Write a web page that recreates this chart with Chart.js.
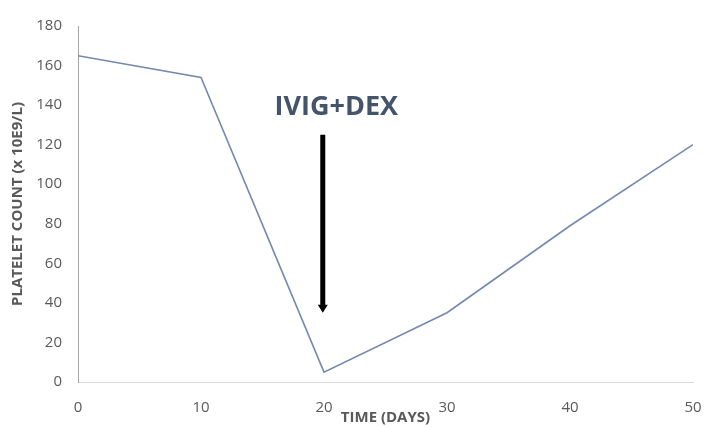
<!DOCTYPE html>
<html>
<head>
<meta charset="utf-8">
<script src="https://cdn.jsdelivr.net/npm/chart.js@4/dist/chart.umd.min.js"></script>
<style>
  html, body { margin: 0; padding: 0; background: #fff; }
  #wrap { width: 710px; height: 427px; }
</style>
</head>
<body>
<div id="wrap"><canvas id="plateletChart"></canvas></div>
<script>
  // data
  const days = [0, 10, 20, 30, 40, 50];
  const platelets = [165, 154, 5, 35, 79, 120];
  const yTicks = [0, 20, 40, 60, 80, 100, 120, 140, 160, 180];
  const xTicks = [0, 10, 20, 30, 40, 50];

  // treatment annotation (data units)
  const treatmentLabel = 'IVIG+DEX';
  const labelAt = [21, 139];
  const arrowDay = 19.9;
  const arrowSpan = [125, 35];

  const tickFont = { family: 'Open Sans', size: 15 };
  const titleFont = { family: 'Open Sans', size: 15, weight: 'bold' };

  const treatmentPlugin = {
    id: 'treatment',
    afterDatasetsDraw(chart) {
      const { ctx, scales: { x, y } } = chart;
      ctx.save();
      ctx.fillStyle = '#44546a';
      ctx.font = 'bold 27px "Open Sans"';
      ctx.textAlign = 'center';
      ctx.textBaseline = 'middle';
      ctx.fillText(treatmentLabel, x.getPixelForValue(labelAt[0]), y.getPixelForValue(labelAt[1]));

      const ax = x.getPixelForValue(arrowDay);
      const top = y.getPixelForValue(arrowSpan[0]);
      const tip = y.getPixelForValue(arrowSpan[1]);
      ctx.strokeStyle = '#000';
      ctx.fillStyle = '#000';
      ctx.lineWidth = 5;
      ctx.beginPath();
      ctx.moveTo(ax, top);
      ctx.lineTo(ax, tip - 6);
      ctx.stroke();
      ctx.beginPath();
      ctx.moveTo(ax - 5, tip - 8);
      ctx.lineTo(ax + 5, tip - 8);
      ctx.lineTo(ax, tip);
      ctx.closePath();
      ctx.fill();
      ctx.restore();
    }
  };

  new Chart(document.getElementById('plateletChart').getContext('2d'), {
    type: 'line',
    data: {
      datasets: [{
        label: 'Platelet count',
        data: days.map((d, i) => ({ x: d, y: platelets[i] })),
        borderColor: '#7489b0',
        borderWidth: 1.6,
        pointRadius: 0,
        tension: 0,
        fill: false
      }]
    },
    options: {
      responsive: true, maintainAspectRatio: false, animation: false,
      layout: { padding: { top: 26, right: 17, left: 0, bottom: 0 } },
      plugins: { legend: { display: false }, tooltip: { enabled: false } },
      scales: {
        x: {
          type: 'linear', min: 0, max: 50,
          afterBuildTicks: s => { s.ticks = xTicks.map(v => ({ value: v })); },
          afterFit: s => { s.height = 45; s.paddingLeft = 0; s.paddingRight = 0; },
          grid: { display: false, drawTicks: false },
          border: { display: true, color: '#d9d9d9', width: 1 },
          ticks: { color: '#595959', font: tickFont, padding: 17, maxRotation: 0 },
          title: { display: true, text: 'TIME (DAYS)', color: '#595959', font: titleFont, padding: { top: 0, bottom: 0 } }
        },
        y: {
          min: 0, max: 180,
          afterBuildTicks: s => { s.ticks = yTicks.map(v => ({ value: v })); },
          afterFit: s => { s.width = 78; s.paddingTop = 0; s.paddingBottom = 0; },
          grid: { display: false, drawTicks: false },
          border: { display: true, color: '#a6a6a6', width: 1 },
          ticks: { color: '#595959', font: tickFont, padding: 16 },
          title: { display: true, text: 'PLATELET COUNT (x 10E9/L)', color: '#595959', font: titleFont, padding: { top: 9, bottom: 0 } }
        }
      }
    },
    plugins: [treatmentPlugin]
  });
</script>
</body>
</html>
